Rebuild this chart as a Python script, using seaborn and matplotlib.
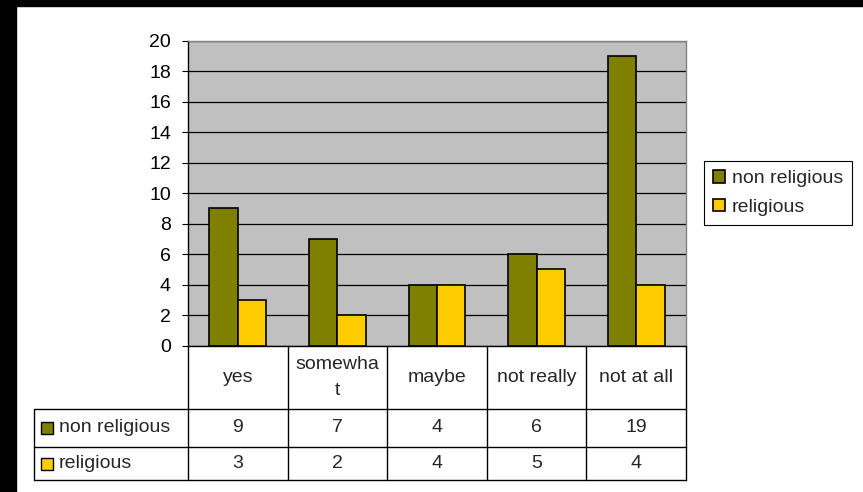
import matplotlib
matplotlib.use("Agg")
import matplotlib.pyplot as plt
from matplotlib.patches import Rectangle
import seaborn as sns
import pandas as pd

# 데이터
answers = ["yes", "somewhat", "maybe", "not really", "not at all"]
header_labels = ["yes", "somewha\nt", "maybe", "not really", "not at all"]
groups = ["non religious", "religious"]
non_religious = [9, 7, 4, 6, 19]
religious = [3, 2, 4, 5, 4]
colors = ["#808000", "#FFCC00"]

df = pd.DataFrame({
    "answer": answers * 2,
    "group": [groups[0]] * len(answers) + [groups[1]] * len(answers),
    "count": non_religious + religious,
})

sns.set_style("white")
plt.rcParams["font.family"] = ["Liberation Sans", "DejaVu Sans"]
FS = 14

W, H = 863, 492
fig = plt.figure(figsize=(W / 100, H / 100), dpi=100, facecolor="white")

# 왼쪽/위쪽 검은 테두리
fig.add_artist(Rectangle((0, 1 - 6 / H), 1, 6 / H, transform=fig.transFigure, color="black", zorder=0))
fig.add_artist(Rectangle((0, 0), 16 / W, 1, transform=fig.transFigure, color="black", zorder=0))

L, R, T, B = 188, 686, 40.7, 345.7
ax = fig.add_axes([L / W, 1 - B / H, (R - L) / W, (B - T) / H])
ax.set_facecolor("#C0C0C0")

sns.barplot(data=df, x="answer", y="count", hue="group", order=answers, hue_order=groups,
            palette=colors, width=0.57, edgecolor="black", linewidth=1.2, saturation=1, ax=ax)

ax.set_xlim(-0.5, len(answers) - 0.5)
ax.set_ylim(0, 20)
ax.set_yticks(range(0, 21, 2))
ax.set_axisbelow(True)
ax.yaxis.grid(True, color="black", linewidth=0.9)
ax.tick_params(axis="y", direction="out", length=4.3, width=0.8, pad=8, labelsize=FS, left=True, colors="black")
ax.set_xticks([])
ax.set_xlabel("")
ax.set_ylabel("")
for s in ["top", "right"]:
    ax.spines[s].set_color("#808080")
    ax.spines[s].set_linewidth(1)
for s in ["left", "bottom"]:
    ax.spines[s].set_color("black")
    ax.spines[s].set_linewidth(1)

# 오른쪽 범례
handles, labels = ax.get_legend_handles_labels()
leg = ax.legend(handles, labels, loc="center left", bbox_to_anchor=(704 / W, 1 - 193 / H),
                bbox_transform=fig.transFigure, borderaxespad=0, fontsize=FS,
                handlelength=0.62, handleheight=0.62, handletextpad=0.35,
                fancybox=False, framealpha=1, edgecolor="black", labelspacing=0.6,
                borderpad=0.45)
leg.get_frame().set_linewidth(0.8)

# 아래 데이터 표
ph = B - T
pw = R - L
def yf(py):
    return (B - py) / ph

def xf(px):
    return (px - L) / pw

trans = ax.get_xaxis_transform()
lw = 1
y_head, y_r1, y_r2 = yf(409), yf(447), yf(480)
x_tab = xf(34)

# 가로선
for yy in [y_head, y_r1, y_r2]:
    ax.plot([x_tab, 1], [yy, yy], transform=ax.transAxes, color="black", lw=lw, clip_on=False)
# 세로선
ax.plot([x_tab, x_tab], [y_head, y_r2], transform=ax.transAxes, color="black", lw=lw, clip_on=False)
ax.plot([0, 0], [0, y_r2], transform=ax.transAxes, color="black", lw=lw, clip_on=False)
for i in range(len(answers)):
    ax.plot([i + 0.5, i + 0.5], [0, y_r2], transform=trans, color="black", lw=lw, clip_on=False)

# 헤더 / 값
for i, lab in enumerate(header_labels):
    ax.text(i, (yf(346) + y_head) / 2, lab, transform=trans, ha="center", va="center",
            fontsize=FS, linespacing=1.7)
    ax.text(i, (y_head + y_r1) / 2, str(non_religious[i]), transform=trans, ha="center", va="center", fontsize=FS)
    ax.text(i, (y_r1 + y_r2) / 2, str(religious[i]), transform=trans, ha="center", va="center", fontsize=FS)

# 표 안의 범례 키
for yy, name, c in [((y_head + y_r1) / 2, groups[0], colors[0]), ((y_r1 + y_r2) / 2, groups[1], colors[1])]:
    ax.plot([xf(46.5)], [yy], marker="s", markersize=8.5, markerfacecolor=c, markeredgecolor="black",
            markeredgewidth=1, transform=ax.transAxes, clip_on=False, linestyle="none")
    ax.text(xf(59), yy, name, transform=ax.transAxes, ha="left", va="center", fontsize=FS)

fig.savefig("out.png", dpi=100, facecolor="white")
